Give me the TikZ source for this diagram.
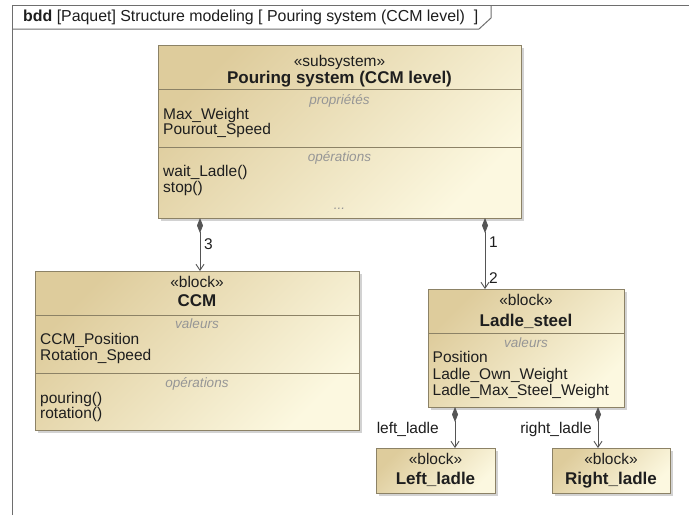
\documentclass[tikz,border=0pt]{standalone}
\usepackage{fontspec}
\setmainfont{Liberation Sans}
\usetikzlibrary{arrows.meta,shadows}
\definecolor{bordc}{RGB}{140,130,102}
\definecolor{blkA}{RGB}{222,204,156}
\definecolor{blkB}{RGB}{252,248,224}
\definecolor{secgray}{RGB}{150,150,150}
\definecolor{txtc}{RGB}{30,30,30}
\definecolor{linec}{RGB}{85,85,85}
\definecolor{framec}{RGB}{110,110,110}
\tikzset{
  blk/.style={draw=bordc, line width=0.9pt, top color=blkA, bottom color=blkB, shading angle=45,
    drop shadow={shadow xshift=3pt, shadow yshift=-3pt, opacity=0.35, fill=gray},
    inner sep=0pt, outer sep=0pt},
  sepline/.style={draw=bordc, line width=0.8pt},
  stereo/.style={inner sep=0pt, anchor=mid, yshift=-1.5pt, text=txtc, font=\fontsize{15.5}{16}\selectfont},
  bname/.style={inner sep=0pt, anchor=mid, yshift=-1.5pt, text=txtc, font=\fontsize{17}{18}\selectfont\bfseries},
  seclbl/.style={inner sep=0pt, anchor=mid, yshift=-1.5pt, text=secgray, font=\fontsize{13.5}{14}\selectfont\itshape},
  attr/.style={inner sep=0pt, anchor=mid west, yshift=-1.5pt, text=txtc, font=\fontsize{15.5}{16}\selectfont},
  conlbl/.style={inner sep=0pt, text=txtc, font=\fontsize{15.5}{16}\selectfont},
  comp/.style={draw=linec, line width=0.9pt, {Diamond[length=15pt,width=6pt,fill=linec]}-{Straight Barb[length=6pt,width=8pt]}},
  framel/.style={draw=framec, line width=1pt}
}
\begin{document}
\begin{tikzpicture}[x=1pt, y=-1pt]
\useasboundingbox[fill=white] (0,0) rectangle (689,515);

% frame
\coordinate (fr-bl) at (12,515);
\coordinate (fr-tl) at (12,5);
\coordinate (fr-tr) at (689,5);
\coordinate (tab-a) at (12,29);
\coordinate (tab-b) at (479,29);
\coordinate (tab-c) at (491,18);
\coordinate (tab-d) at (491,5);
\draw[framel] (fr-bl) -- (fr-tl) -- (fr-tr);
\draw[framel] (tab-a) -- (tab-b) -- (tab-c) -- (tab-d);
\node[conlbl, anchor=base west, font=\fontsize{15.9}{16}\selectfont] (hdr) at (23,21) {\textbf{bdd} [Paquet] Structure modeling [ Pouring system (CCM level)\ \ ]};

% Pouring system block
\node[blk, minimum width=363pt, minimum height=173pt] (ps) at (339.5,131.5) {};
\draw[sepline] (ps.west |- 0,89) -- (ps.east |- 0,89);
\draw[sepline] (ps.west |- 0,147) -- (ps.east |- 0,147);
\node[stereo] (ps-st) at (339.5,62) {«subsystem»};
\node[bname] (ps-nm) at (339.5,79) {Pouring system (CCM level)};
\node[seclbl] (ps-s1) at (339.5,100) {propriétés};
\node[attr] (ps-a1) at (163,115) {Max\_Weight};
\node[attr] (ps-a2) at (163,130) {Pourout\_Speed};
\node[seclbl] (ps-s2) at (339.5,157) {opérations};
\node[attr] (ps-o1) at (163,172) {wait\_Ladle()};
\node[attr] (ps-o2) at (163,188) {stop()};
\node[seclbl] (ps-dots) at (339.5,205) {...};

% CCM block
\node[blk, minimum width=324pt, minimum height=159pt] (ccm) at (197,350.5) {};
\draw[sepline] (ccm.west |- 0,315) -- (ccm.east |- 0,315);
\draw[sepline] (ccm.west |- 0,373) -- (ccm.east |- 0,373);
\node[stereo] (ccm-st) at (197,283) {«block»};
\node[bname] (ccm-nm) at (197,302) {CCM};
\node[seclbl] (ccm-s1) at (197,324) {valeurs};
\node[attr] (ccm-a1) at (40,340) {CCM\_Position};
\node[attr] (ccm-a2) at (40,356) {Rotation\_Speed};
\node[seclbl] (ccm-s2) at (197,383) {opérations};
\node[attr] (ccm-o1) at (40,399) {pouring()};
\node[attr] (ccm-o2) at (40,414) {rotation()};

% Ladle_steel block
\node[blk, minimum width=196pt, minimum height=118pt] (ls) at (526,348) {};
\draw[sepline] (ls.west |- 0,333) -- (ls.east |- 0,333);
\node[stereo] (ls-st) at (526,301) {«block»};
\node[bname] (ls-nm) at (526,322) {Ladle\_steel};
\node[seclbl] (ls-s1) at (526,343) {valeurs};
\node[attr] (ls-a1) at (432.5,358) {Position};
\node[attr] (ls-a2) at (432.5,375) {Ladle\_Own\_Weight};
\node[attr] (ls-a3) at (432.5,391) {Ladle\_Max\_Steel\_Weight};

% Left_ladle block
\node[blk, minimum width=119pt, minimum height=45pt] (ll) at (435.5,470.5) {};
\node[stereo] (ll-st) at (435.5,460) {«block»};
\node[bname] (ll-nm) at (435.5,480) {Left\_ladle};

% Right_ladle block
\node[blk, minimum width=118pt, minimum height=45pt] (rl) at (611,470.5) {};
\node[stereo] (rl-st) at (611,460) {«block»};
\node[bname] (rl-nm) at (611,480) {Right\_ladle};

% connectors
\coordinate (c1s) at (ps.south -| 200,0);
\coordinate (c2s) at (ps.south -| 485,0);
\coordinate (c3s) at (ls.south -| 455,0);
\coordinate (c4s) at (ls.south -| 598,0);
\draw[comp] (c1s) -- (c1s |- ccm.north);
\draw[comp] (c2s) -- (c2s |- ls.north);
\draw[comp] (c3s) -- (c3s |- ll.north);
\draw[comp] (c4s) -- (c4s |- rl.north);

\node[conlbl, anchor=west] (l3) at (204,244) {3};
\node[conlbl, anchor=west] (l1) at (489,242) {1};
\node[conlbl, anchor=west] (l2) at (489,278) {2};
\node[conlbl, anchor=east] (lleft) at (439,429) {left\_ladle};
\node[conlbl, anchor=east] (lright) at (592,429) {right\_ladle};
\end{tikzpicture}
\end{document}
